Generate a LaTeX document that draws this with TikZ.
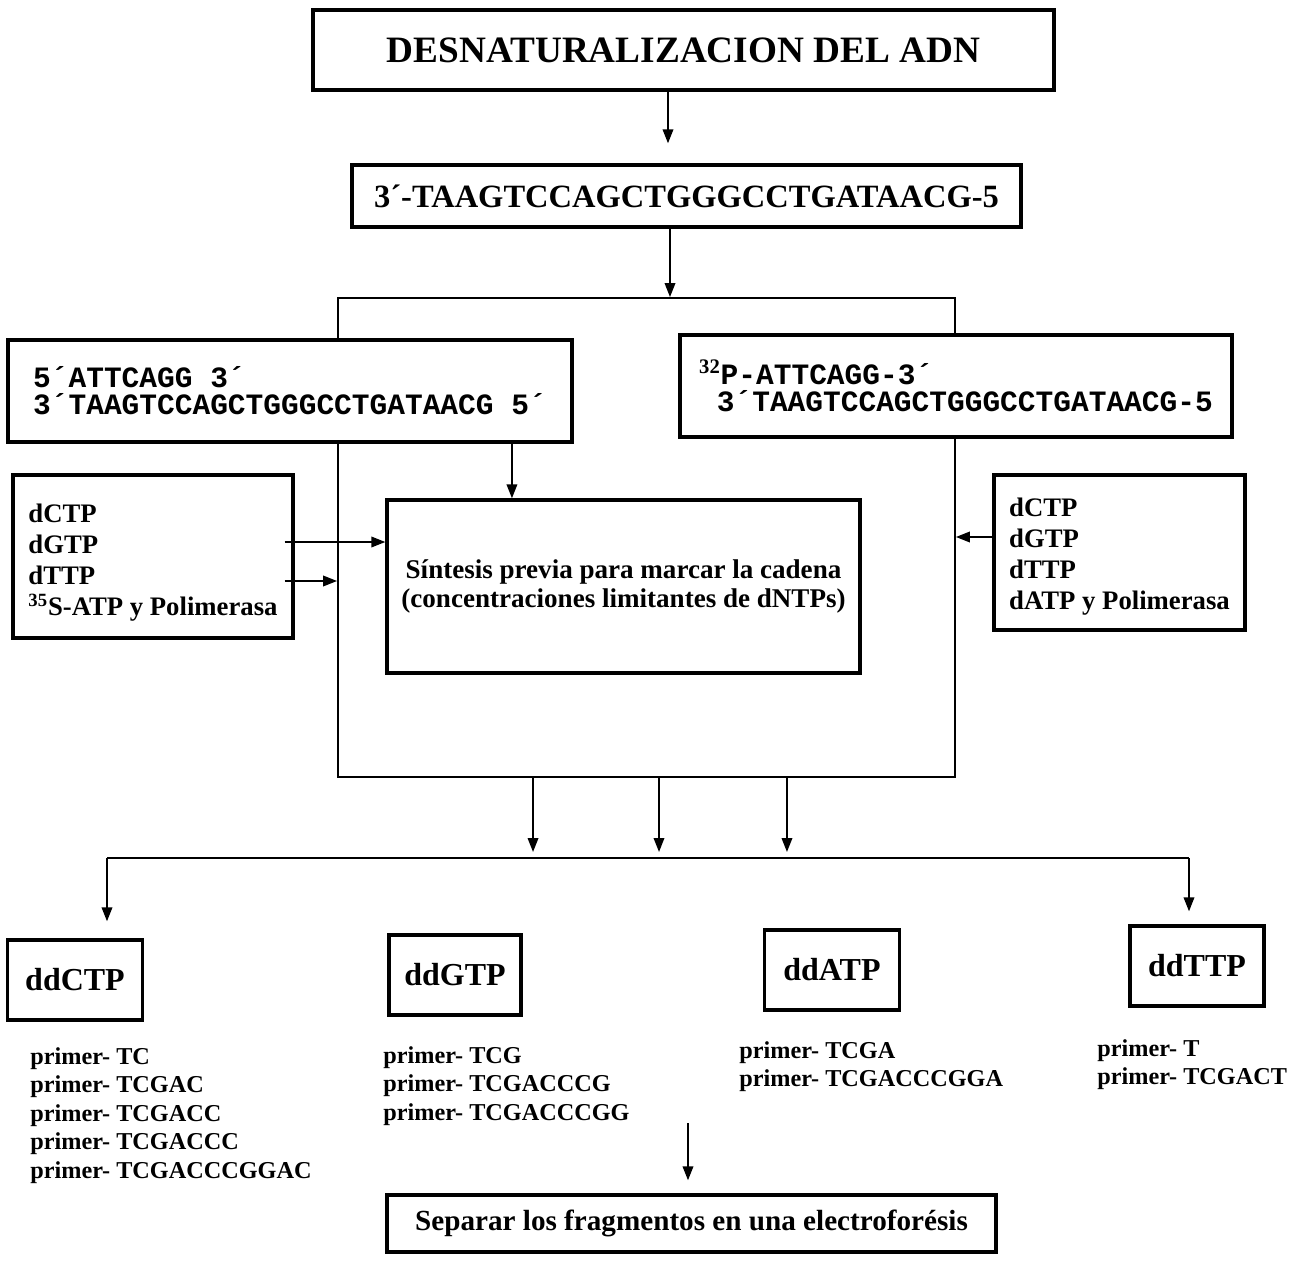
\documentclass[tikz,border=0pt]{standalone}
\usepackage{fontspec}
\setmainfont{Liberation Serif}
\setmonofont{Liberation Mono}
\usepackage{tikz}
\usetikzlibrary{arrows.meta,positioning}
\tikzset{%
	caja/.style       = {draw, rectangle, line width=1.9pt, fill=white, inner sep=0pt},
	ddcaja/.style     = {caja, minimum width=2.7cm, minimum height=1.6cm, font=\bfseries\fontsize{18.2}{21}\selectfont},
	marcolinea/.style = {draw, rectangle, line width=1.1pt, inner sep=0pt},
	flecha/.style     = {line width=1.1pt, -{Triangle[length=0.28cm,width=0.21cm]}},
	lista/.style      = {align=left, inner sep=0pt, anchor=north west, font=\bfseries\fontsize{13.8}{16.2}\selectfont},
}
\begin{document}
\begin{tikzpicture}[x=0.02cm, y=-0.02cm]
	\useasboundingbox (0,0) rectangle (1307,1260);
	% marco de la sintesis previa
	\node[marcolinea, minimum width=12.34cm, minimum height=9.58cm] (marco) at (646.5,537.5) {};
	\node[caja, minimum width=14.82cm, minimum height=1.6cm, font=\bfseries\fontsize{21.2}{24}\selectfont] (desnat) at (683.5,50) {DESNATURALIZACION DEL ADN};
	\node[caja, minimum width=13.38cm, minimum height=1.24cm, font=\bfseries\fontsize{18.5}{21}\selectfont] (hebra) at (686.5,196) {3´-TAAGTCCAGCTGGGCCTGATAACG-5};
	\node[caja, align=left, minimum width=11.28cm, minimum height=2.04cm, font=\ttfamily\bfseries\fontsize{16.8}{15.4}\selectfont] (cebizq) at (290,391) {5´ATTCAGG 3´\\3´TAAGTCCAGCTGGGCCTGATAACG 5´};
	\node[caja, align=left, minimum width=11.04cm, minimum height=2.04cm, font=\ttfamily\bfseries\fontsize{16.8}{15.4}\selectfont] (cebder) at (956,386) {{\rmfamily\textsuperscript{32}}P-ATTCAGG-3´\\\phantom{0}3´TAAGTCCAGCTGGGCCTGATAACG-5};
	\node[caja, align=center, minimum width=9.46cm, minimum height=3.46cm, font=\bfseries\fontsize{15.4}{16.5}\selectfont] (sintesis) at (623.5,586.5) {Síntesis previa para marcar la cadena\\(concentraciones limitantes de dNTPs)};
	\node[caja, align=left, minimum width=5.6cm, minimum height=3.26cm, font=\bfseries\fontsize{15.2}{17.6}\selectfont] (nucizq) at (153,556.5) {\rule{0pt}{0.62cm}dCTP\\dGTP\\dTTP\\\textsuperscript{35}S-ATP y Polimerasa};
	\node[caja, align=left, minimum width=5.02cm, minimum height=3.1cm, font=\bfseries\fontsize{15.2}{17.6}\selectfont] (nucder) at (1119.5,552.5) {\rule{0pt}{0.55cm}dCTP\\dGTP\\dTTP\\dATP y Polimerasa};
	% terminadores
	\node[ddcaja] (ddC) at (75,980) {ddCTP};
	\node[ddcaja, minimum width=2.64cm] (ddG) at (455,975) {ddGTP};
	\node[ddcaja] (ddA) at (832,970) {ddATP};
	\node[ddcaja, minimum width=2.68cm] (ddT) at (1197,966) {ddTTP};
	\node[lista] (primC) at (30,1047) {primer- TC\\primer- TCGAC\\primer- TCGACC\\primer- TCGACCC\\primer- TCGACCCGGAC};
	\node[lista] (primG) at (383,1046) {primer- TCG\\primer- TCGACCCG\\primer- TCGACCCGG};
	\node[lista] (primA) at (739,1041) {primer- TCGA\\primer- TCGACCCGGA};
	\node[lista] (primT) at (1097,1039) {primer- T\\primer- TCGACT};
	\node[caja, minimum width=12.18cm, minimum height=1.14cm, font=\bfseries\fontsize{16.6}{19}\selectfont] (separar) at (691.5,1223.5) {Separar los fragmentos en una electroforésis};
	\coordinate (rl) at (107,858);
	\coordinate (rr) at (1189,858);
	\coordinate (fin) at (688,1123);
	% conexiones
	\draw[flecha, shorten >=0.4cm] ([xshift=-0.31cm]desnat.south) -- ([xshift=-0.31cm]desnat.south |- hebra.north);
	\draw[flecha] ([xshift=-0.33cm]hebra.south) -- ([xshift=-0.33cm]hebra.south |- marco.north);
	\draw[flecha] ([xshift=4.44cm]cebizq.south) -- ([xshift=4.44cm]cebizq.south |- sintesis.north);
	\draw[flecha] ([xshift=-0.2cm,yshift=0.29cm]nucizq.east) -- ([yshift=0.29cm]nucizq.east -| sintesis.west);
	\draw[flecha] ([xshift=-0.2cm,yshift=-0.49cm]nucizq.east) -- ([yshift=-0.49cm]nucizq.east -| marco.west);
	\draw[flecha] ([yshift=0.31cm]nucder.west) -- ([yshift=0.31cm]nucder.west -| marco.east);
	\foreach \dx in {-2.27,0.25,2.81}
		\draw[flecha, shorten >=0.12cm] ([xshift=\dx cm]marco.south) -- ([xshift=\dx cm]marco.south |- rl);
	\draw[line width=1.4pt] (rl) -- (rr);
	\draw[flecha, shorten >=0.34cm] (rl) -- (rl |- ddC.north);
	\draw[flecha, shorten >=0.26cm] (rr) -- (rr |- ddT.north);
	\draw[flecha, shorten >=0.26cm] (fin) -- (fin |- separar.north);
\end{tikzpicture}
\end{document}
